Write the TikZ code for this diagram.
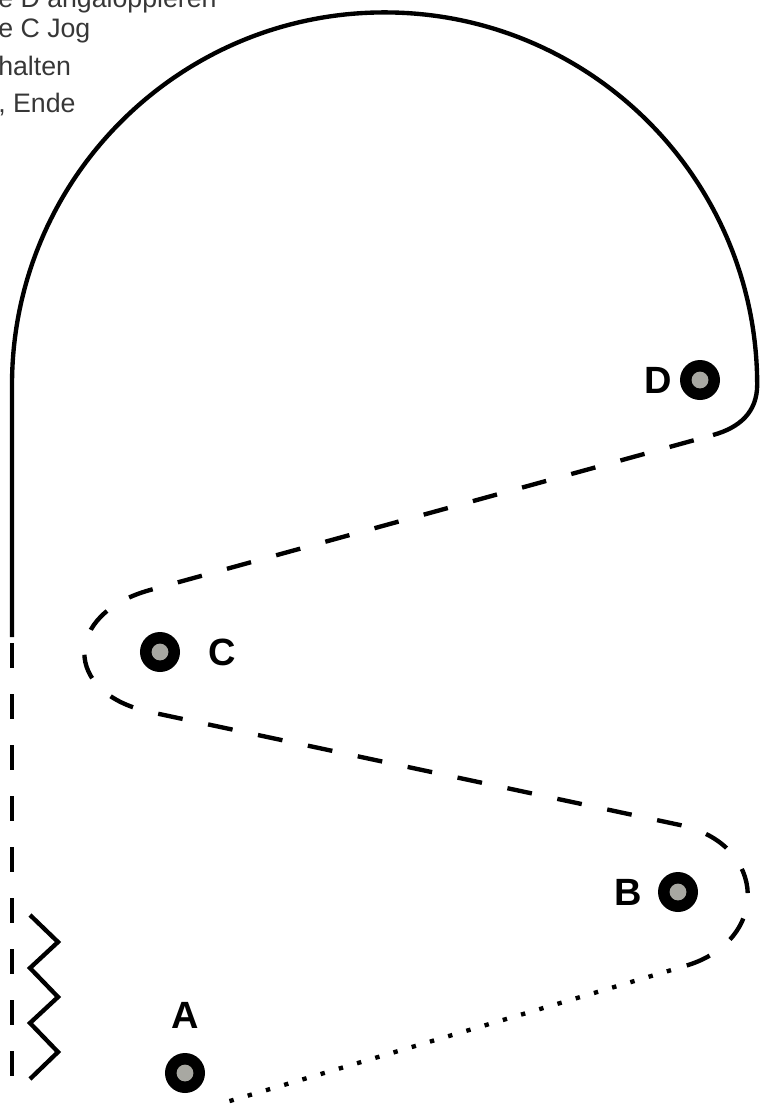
\documentclass[tikz,border=0pt]{standalone}
\usepackage{fontspec}
\setmainfont{Liberation Sans}
\usetikzlibrary{positioning}
\definecolor{ringgrey}{RGB}{168,168,162}
\definecolor{notegrey}{RGB}{55,55,55}

\begin{document}
\begin{tikzpicture}[x=0.025cm, y=-0.025cm,
    track/.style={line width=3.1pt, black},
    dashtrack/.style={track, dash pattern=on 0.625cm off 0.65cm},
    dottrack/.style={track, dash pattern=on 0.11cm off 0.365cm, dash phase=0.11cm},
    pointmark/.style={circle, fill=black, minimum size=1cm, inner sep=0pt},
    pointlabel/.style={font=\fontsize{27}{29}\selectfont\bfseries, inner sep=0pt},
    note/.style={font=\fontsize{19}{22}\selectfont, text=notegrey, anchor=base west, inner sep=0pt}]
    \useasboundingbox (0,0) rectangle (761,1107);

    \node[note] (line1) at (-2,7) {e D angaloppieren};
    \node[note] (line2) at (-2,37) {e C Jog};
    \node[note] (line3) at (-2,75) {halten};
    \node[note] (line4) at (-2,112) {, Ende};

    \draw[track] (12,637) -- (12,385) arc[start angle=180, end angle=0, radius=9.3125cm]
        .. controls (757,412) and (740,427.5) .. (713,435);
    \draw[dashtrack, dash phase=0.775cm] (713,435) -- (150,590)
        .. controls (63,614) and (62,693) .. (150,712) -- (680,825)
        .. controls (768,844) and (771,941) .. (685,966);
    \draw[dottrack] (685,966) -- (223,1103);

    \draw[dashtrack] (12,643) -- (12,1078);
    \draw[track, line join=miter] (30,915) -- (58,942) -- (30,968) -- (58,997)
        -- (30,1023) -- (58,1052) -- (30,1079);

    \node[pointmark] (D) at (700,380) {};
    \node[pointmark] (C) at (160,652) {};
    \node[pointmark] (B) at (678,892) {};
    \node[pointmark] (A) at (185,1073) {};
    \foreach \p in {A,B,C,D}
        \fill[ringgrey] (\p.center) circle (0.21cm);

    \node[pointlabel, left=0.2cm of D] (labelD) {D};
    \node[pointlabel, right=0.7cm of C] (labelC) {C};
    \node[pointlabel, left=0.4cm of B] (labelB) {B};
    \node[pointlabel, above=0.6cm of A] (labelA) {A};
\end{tikzpicture}
\end{document}
